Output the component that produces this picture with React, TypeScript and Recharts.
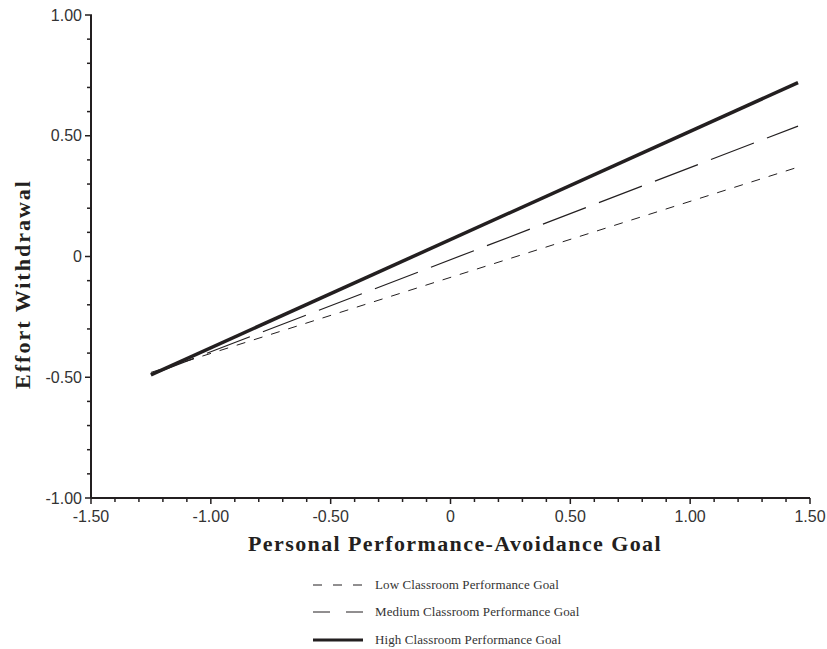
import { LineChart, Line, XAxis, YAxis, Label } from 'recharts'

// personal performance-avoidance goal (x) at the two ends of each line
const X_VALUES = [-1.25, 1.45]

// effort withdrawal for each classroom performance goal level
const LOW_GOAL = [-0.48, 0.37]
const MEDIUM_GOAL = [-0.49, 0.54]
const HIGH_GOAL = [-0.49, 0.72]

const X_TICKS = [
  -1.5, -1.4, -1.3, -1.2, -1.1, -1.0, -0.9, -0.8, -0.7, -0.6, -0.5, -0.4, -0.3, -0.2, -0.1,
  0, 0.1, 0.2, 0.3, 0.4, 0.5, 0.6, 0.7, 0.8, 0.9, 1.0, 1.1, 1.2, 1.3, 1.4, 1.5,
]
const Y_TICKS = [
  -1.0, -0.9, -0.8, -0.7, -0.6, -0.5, -0.4, -0.3, -0.2, -0.1,
  0, 0.1, 0.2, 0.3, 0.4, 0.5, 0.6, 0.7, 0.8, 0.9, 1.0,
]

const SERIES = [
  { key: 'low', label: 'Low Classroom Performance Goal', values: LOW_GOAL, width: 1, dash: '9 9' },
  { key: 'medium', label: 'Medium Classroom Performance Goal', values: MEDIUM_GOAL, width: 1.2, dash: '46 14' },
  { key: 'high', label: 'High Classroom Performance Goal', values: HIGH_GOAL, width: 3.5, dash: undefined },
]

const INK = '#231f20'
const TICK_FONT = '"Liberation Sans", Arial, sans-serif'
const SERIF = '"Liberation Serif", "Times New Roman", serif'

const isMajor = (v: number) => Math.abs(v * 2 - Math.round(v * 2)) < 1e-6
const fmt = (v: number) => (Math.abs(v) < 1e-9 ? '0' : v.toFixed(2))

const data = X_VALUES.map((x, i) => {
  const row: any = { x }
  SERIES.forEach(s => {
    row[s.key] = s.values[i]
  })
  return row
})

const XTick = ({ x, y, payload }: any) => {
  const major = isMajor(payload.value)
  return (
    <g>
      <line x1={x} x2={x} y1={y} y2={y + (major ? 6 : 4)} stroke={INK} strokeWidth={1.5} />
      {major && (
        <text x={x} y={y + 24} textAnchor="middle" fill="#333" fontSize={16} fontFamily={TICK_FONT}>
          {fmt(payload.value)}
        </text>
      )}
    </g>
  )
}

const YTick = ({ x, y, payload }: any) => {
  const major = isMajor(payload.value)
  return (
    <g>
      <line x1={x - (major ? 6 : 4)} x2={x + 1} y1={y} y2={y} stroke={INK} strokeWidth={1.5} />
      {major && (
        <text x={x - 9} y={y} dy="0.35em" textAnchor="end" fill="#333" fontSize={16} fontFamily={TICK_FONT}>
          {fmt(payload.value)}
        </text>
      )}
    </g>
  )
}

function LegendSwatch({ width, dash }: { width: number; dash?: string }) {
  const legendDash = dash === '9 9' ? '9 11' : dash ? '17 16' : undefined
  return (
    <svg width={50} height={8} style={{ display: 'block' }}>
      <line x1={0} x2={50} y1={4} y2={4} stroke={INK} strokeWidth={width === 3.5 ? 3 : 1} strokeDasharray={legendDash} />
    </svg>
  )
}

export default function App() {
  return (
    <div style={{ position: 'absolute', left: 0, top: 0, width: 827, height: 649, background: '#fff' }}>
      <LineChart
        width={827}
        height={649}
        data={data}
        margin={{ top: 15, right: 17, left: 0, bottom: 121 }}
      >
        <XAxis
          dataKey="x"
          type="number"
          domain={[-1.5, 1.5]}
          ticks={X_TICKS}
          interval={0}
          tickSize={0}
          tickMargin={0}
          height={30}
          axisLine={{ stroke: INK, strokeWidth: 2 }}
          tickLine={false}
          tick={<XTick />}
        >
          <Label
            content={() => (
              <text
                x={455}
                y={551}
                textAnchor="middle"
                fill={INK}
                fontSize={22}
                fontWeight="bold"
                fontFamily={SERIF}
                letterSpacing={1.4}
              >
                Personal Performance-Avoidance Goal
              </text>
            )}
          />
        </XAxis>
        <YAxis
          type="number"
          domain={[-1, 1]}
          ticks={Y_TICKS}
          interval={0}
          width={91}
          tickSize={0}
          tickMargin={0}
          axisLine={{ stroke: INK, strokeWidth: 2 }}
          tickLine={false}
          tick={<YTick />}
        >
          <Label
            content={() => (
              <text
                x={0}
                y={0}
                transform="translate(30, 284) rotate(-90)"
                textAnchor="middle"
                fill={INK}
                fontSize={22}
                fontWeight="bold"
                fontFamily={SERIF}
                letterSpacing={2}
              >
                Effort Withdrawal
              </text>
            )}
          />
        </YAxis>
        {SERIES.map(s => (
          <Line
            key={s.key}
            type="linear"
            dataKey={s.key}
            stroke={INK}
            strokeWidth={s.width}
            strokeDasharray={s.dash}
            dot={false}
            activeDot={false}
            isAnimationActive={false}
          />
        ))}
      </LineChart>

      {/* legend below the plot */}
      <div style={{ position: 'absolute', left: 313, top: 571 }}>
        {SERIES.map(s => (
          <div key={s.key} style={{ display: 'flex', alignItems: 'center', height: 27.5 }}>
            <LegendSwatch width={s.width} dash={s.dash} />
            <span
              style={{
                marginLeft: 12,
                fontFamily: SERIF,
                fontSize: 13,
                letterSpacing: 0.1,
                lineHeight: '16px',
                color: '#333',
              }}
            >
              {s.label}
            </span>
          </div>
        ))}
      </div>
    </div>
  )
}
